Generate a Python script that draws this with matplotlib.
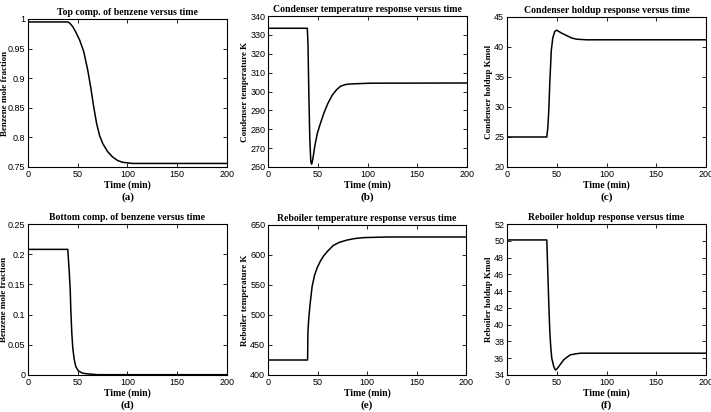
import matplotlib.pyplot as plt

# (a) top composition of benzene
ta = [0, 40, 42, 45, 48, 52, 56, 60, 63, 66, 69, 72, 75, 80, 85, 90, 95, 105, 200]
xa = [0.995, 0.995, 0.993, 0.987, 0.978, 0.964, 0.945, 0.914, 0.885, 0.852, 0.823,
      0.803, 0.79, 0.776, 0.767, 0.761, 0.758, 0.756, 0.756]

# (b) condenser temperature
tb = [0, 39.5, 40.2, 41, 42, 43, 43.8, 45, 47, 49.5, 52, 56, 60, 64.5, 69, 73, 78, 83, 103, 200]
Tb = [333.5, 333.5, 325, 300, 275, 263, 261.5, 264, 271, 277.7, 282, 288.3, 293.5,
      298, 301, 302.8, 303.7, 304, 304.4, 304.5]

# (c) condenser holdup
tc = [0, 40, 41, 42, 43, 44.5, 46, 48, 50, 55, 60, 65, 70, 80, 200]
Mc = [25, 25, 26.5, 29.4, 34, 39.4, 41.5, 42.6, 42.8, 42.3, 41.9, 41.5, 41.3, 41.2, 41.2]

# (d) bottom composition of benzene
td = [0, 40, 40.5, 41.5, 42.4, 43, 44, 45, 46.4, 48, 50.7, 55, 59, 70, 200]
xd = [0.208, 0.208, 0.195, 0.17, 0.142, 0.11, 0.07, 0.045, 0.026, 0.014, 0.0066,
      0.003, 0.002, 0.0005, 0.0005]

# (e) reboiler temperature
te = [0, 40, 40.3, 41, 42.3, 44.6, 47, 49.7, 53, 56, 60, 66, 72, 80, 88, 97, 120, 200]
Te = [425, 425, 470, 490, 515, 548, 566, 579, 590, 598, 606, 616, 621, 625, 627.5,
      629, 630, 630]

# (f) reboiler holdup
tf = [0, 40, 41, 42, 43, 44, 45, 47, 48.6, 50, 52, 55, 57, 60, 63.6, 68, 73.7, 90, 200]
Mf = [50.1, 50.1, 46.3, 42.5, 39.2, 37.3, 36, 35, 34.6, 34.7, 35, 35.5, 35.8, 36.1,
      36.4, 36.5, 36.6, 36.6, 36.6]

panels = [
    (ta, xa, 'Top comp. of benzene versus time', 'Benzene mole fraction', '(a)',
     (0.75, 1.0), [0.75, 0.8, 0.85, 0.9, 0.95, 1], ['0.75', '0.8', '0.85', '0.9', '0.95', '1']),
    (tb, Tb, 'Condenser temperature response versus time', 'Condenser temperature K', '(b)',
     (260, 340), list(range(260, 341, 10)), None),
    (tc, Mc, 'Condenser holdup response versus time', 'Condenser holdup Kmol', '(c)',
     (20, 45), list(range(20, 46, 5)), None),
    (td, xd, 'Bottom comp. of benzene versus time', 'Benzene mole fraction', '(d)',
     (0, 0.25), [0, 0.05, 0.1, 0.15, 0.2, 0.25], ['0', '0.05', '0.1', '0.15', '0.2', '0.25']),
    (te, Te, 'Reboiler temperature response versus time', 'Reboiler temperature K', '(e)',
     (400, 650), list(range(400, 651, 50)), None),
    (tf, Mf, 'Reboiler holdup response versus time', 'Reboiler holdup Kmol', '(f)',
     (34, 52), list(range(34, 53, 2)), None),
]

# axes boxes in pixels: left, right, top, bottom, ylabel offset
boxes = [
    (28, 227, 19, 167, -19), (268, 467, 16, 167, -19), (507, 706, 17, 167, -14),
    (28, 227, 224, 375, -20), (268, 466, 225, 375, -19), (507, 706, 224, 375, -14),
]

W, H = 711, 412
fig = plt.figure(figsize=(W / 100, H / 100), dpi=100)
serif = 'Liberation Serif'
sans = 'Liberation Sans'

for (t, y, title, ylabel, tag, ylim, yticks, ylabs), (l, r, tp, b, off) in zip(panels, boxes):
    ax = fig.add_axes([l / W, 1 - b / H, (r - l) / W, (b - tp) / H])
    ax.plot(t, y, color='black', lw=1.1)
    ax.set_xlim(0, 200)
    ax.set_ylim(*ylim)
    ax.set_xticks([0, 50, 100, 150, 200])
    ax.set_yticks(yticks)
    if ylabs:
        ax.set_yticklabels(ylabs)
    ax.tick_params(direction='in', top=True, right=True, length=3, width=0.6,
                   labelsize=6.5, pad=2)
    for lab in ax.get_xticklabels() + ax.get_yticklabels():
        lab.set_fontfamily(sans)
    for s in ax.spines.values():
        s.set_linewidth(0.8)
    ax.set_title(title, fontsize=7, fontweight='bold', family=serif, pad=3)
    ax.set_ylabel(ylabel, fontsize=6.5, fontweight='bold', family=serif)
    ax.yaxis.set_label_coords(off / (r - l), 0.5)
    ax.set_xlabel('Time (min)', fontsize=7, fontweight='bold', family=serif, labelpad=1)
    fig.text((l + r) / 2 / W, 1 - (b + 30) / H, tag, ha='center', va='center',
             fontsize=8, fontweight='bold', family=serif)

fig.savefig('out.png', dpi=100)
